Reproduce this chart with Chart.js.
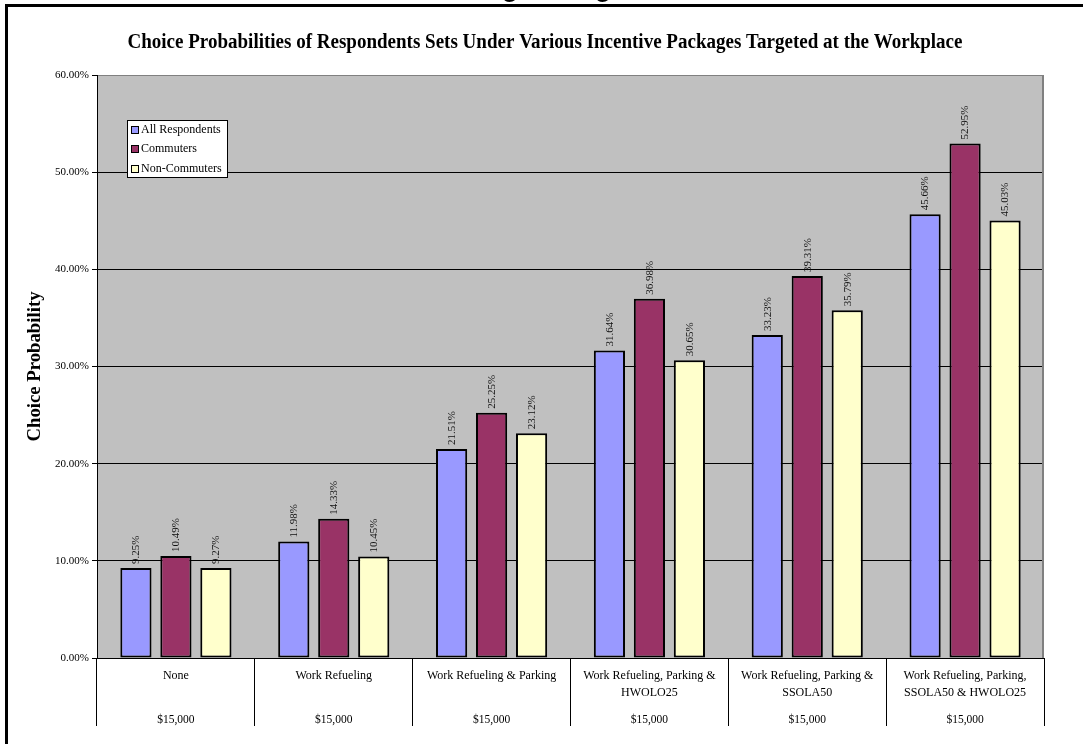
<!DOCTYPE html>
<html>
<head>
<meta charset="utf-8">
<script src="https://cdn.jsdelivr.net/npm/chart.js@4.4.0/dist/chart.umd.min.js"></script>
<style>
  html, body { margin: 0; padding: 0; background: #fff; overflow: hidden; }
  canvas { display: block; }
</style>
</head>
<body>
<canvas id="chart" width="1083" height="744"></canvas>
<script>
// Incentive packages (first tier of the category axis)
const categories = [
  ['None'],
  ['Work Refueling'],
  ['Work Refueling & Parking'],
  ['Work Refueling, Parking &', 'HWOLO25'],
  ['Work Refueling, Parking &', 'SSOLA50'],
  ['Work Refueling, Parking,', 'SSOLA50 & HWOLO25']
];
// Second tier of the category axis
const incomeTier = ['$15,000', '$15,000', '$15,000', '$15,000', '$15,000', '$15,000'];

const seriesNames = ['All Respondents', 'Commuters', 'Non-Commuters'];
const seriesColors = ['#9999FF', '#993366', '#FFFFCC'];

// Choice probabilities, in percent
const allRespondents = [9.25, 11.98, 21.51, 31.64, 33.23, 45.66];
const commuters      = [10.49, 14.33, 25.25, 36.98, 39.31, 52.95];
const nonCommuters   = [9.27, 10.45, 23.12, 30.65, 35.79, 45.03];

const yTicks = [0, 10, 20, 30, 40, 50, 60];

const chartTitle = 'Choice Probabilities of Respondents Sets Under Various Incentive Packages Targeted at the Workplace';
const yTitle = 'Choice Probability';

const SERIF = '"Liberation Serif", "Times New Roman", serif';
const pct = v => v.toFixed(2) + '%';

// Page frame, plot background, titles, legend and value labels
const decorPlugin = {
  id: 'decor',
  beforeDraw(chart) {
    const { ctx, chartArea: a, width, height } = chart;
    ctx.save();
    ctx.fillStyle = '#fff';
    ctx.fillRect(0, 0, width, height);
    ctx.fillStyle = '#C0C0C0';
    ctx.fillRect(a.left, a.top, a.right - a.left, a.bottom - a.top);
    ctx.restore();
  },
  afterDatasetsDraw(chart) {
    const { ctx, chartArea: a } = chart;
    ctx.save();
    // plot area right edge
    ctx.fillStyle = '#808080';
    ctx.fillRect(a.right - 2, a.top, 2, a.bottom - a.top);

    // value labels, rotated, above each bar
    ctx.font = '11px ' + SERIF;
    ctx.fillStyle = '#111';
    ctx.textAlign = 'left';
    ctx.textBaseline = 'middle';
    chart.data.datasets.forEach((ds, i) => {
      chart.getDatasetMeta(i).data.forEach((bar, j) => {
        ctx.save();
        ctx.translate(bar.x + 0.5, bar.y - 4);
        ctx.rotate(-Math.PI / 2);
        ctx.fillText(pct(ds.data[j]), 0, 0);
        ctx.restore();
      });
    });
    ctx.restore();
  },
  afterDraw(chart) {
    const { ctx, chartArea: a, width, height } = chart;
    ctx.save();

    // page frame
    ctx.fillStyle = '#000';
    ctx.fillRect(5, 4, width - 5, 3);
    ctx.fillRect(5, 4, 3, height - 4);

    // heading clipped by the page edge
    ctx.font = 'bold 26px "Liberation Sans", Arial, sans-serif';
    ctx.textAlign = 'center';
    ctx.textBaseline = 'alphabetic';
    ctx.fillText('g', 510, -3);
    ctx.fillText('g', 603, -3);

    // chart title
    ctx.font = 'bold 20px ' + SERIF;
    ctx.textAlign = 'center';
    ctx.textBaseline = 'middle';
    let w = ctx.measureText(chartTitle).width;
    ctx.save();
    ctx.translate(545, 43);
    ctx.scale(835 / w, 1);
    ctx.fillText(chartTitle, 0, 0);
    ctx.restore();

    // y axis title
    ctx.font = 'bold 19px ' + SERIF;
    w = ctx.measureText(yTitle).width;
    ctx.save();
    ctx.translate(35, (a.top + a.bottom) / 2);
    ctx.rotate(-Math.PI / 2);
    ctx.scale(150 / w, 1);
    ctx.fillText(yTitle, 0, 0);
    ctx.restore();

    // legend box
    const lx = a.left + 30, ly = a.top + 45, lw = 101, lh = 58;
    ctx.fillStyle = '#fff';
    ctx.fillRect(lx, ly, lw, lh);
    ctx.strokeStyle = '#000';
    ctx.lineWidth = 1;
    ctx.strokeRect(lx + 0.5, ly + 0.5, lw - 1, lh - 1);
    ctx.font = '12px ' + SERIF;
    ctx.textAlign = 'left';
    ctx.textBaseline = 'middle';
    chart.data.datasets.forEach((ds, i) => {
      const cy = ly + 9.5 + i * 19.5;
      ctx.fillStyle = ds.backgroundColor;
      ctx.fillRect(lx + 4, Math.round(cy) - 4, 7, 7);
      ctx.strokeRect(lx + 4.5, Math.round(cy) - 3.5, 7, 7);
      ctx.fillStyle = '#000';
      ctx.fillText(ds.label, lx + 14, cy);
    });
    ctx.restore();
  }
};

const seriesData = [allRespondents, commuters, nonCommuters];

new Chart(document.getElementById('chart'), {
  type: 'bar',
  data: {
    labels: categories,
    datasets: seriesNames.map((name, i) => ({
      label: name,
      data: seriesData[i],
      backgroundColor: seriesColors[i],
      borderColor: '#000',
      borderWidth: 2,
      borderSkipped: false,
      categoryPercentage: 0.76,
      barPercentage: 0.78
    }))
  },
  options: {
    responsive: false,
    animation: false,
    devicePixelRatio: 1,
    layout: { padding: { left: 0, top: 75, right: 39, bottom: 0 } },
    plugins: {
      legend: { display: false },
      title: { display: false },
      tooltip: { enabled: false }
    },
    scales: {
      x: {
        type: 'category',
        position: 'bottom',
        weight: 0,
        offset: true,
        grid: { display: true, drawOnChartArea: false, offset: true, tickLength: 68, color: '#000', lineWidth: 1 },
        border: { display: true, color: '#000', width: 1 },
        ticks: {
          autoSkip: false, maxRotation: 0, minRotation: 0, padding: -58.5,
          color: '#000', font: { family: SERIF, size: 12, lineHeight: 17 / 12 }
        },
        afterFit(s) { s.height = 44; }
      },
      x2: {
        type: 'category',
        labels: incomeTier,
        position: 'bottom',
        weight: 1,
        offset: true,
        grid: { display: false },
        border: { display: false },
        ticks: {
          autoSkip: false, maxRotation: 0, minRotation: 0, padding: 3,
          color: '#000', font: { family: SERIF, size: 11.5 }
        },
        afterFit(s) { s.height = 42; }
      },
      y: {
        min: yTicks[0],
        max: yTicks[yTicks.length - 1],
        afterBuildTicks(s) { s.ticks = yTicks.map(v => ({ value: v })); },
        ticks: { padding: 3, color: '#000', font: { family: SERIF, size: 11 }, callback: v => pct(v) },
        grid: {
          color: c => (c.tick && c.tick.value === 60 ? '#808080' : '#000'),
          tickColor: '#000', tickLength: 5, lineWidth: 1
        },
        border: { display: true, color: '#000', width: 1 },
        afterFit(s) { s.width = 97; }
      }
    }
  },
  plugins: [decorPlugin]
});
</script>
</body>
</html>
